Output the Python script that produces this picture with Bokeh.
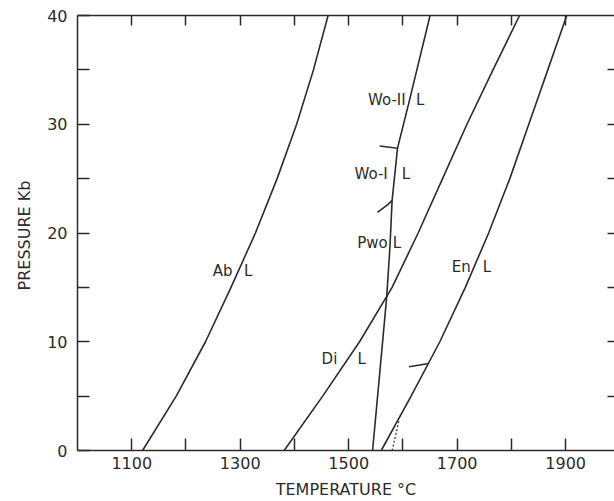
from bokeh.plotting import figure
from bokeh.models import LinearAxis, FixedTicker, Range1d, ColumnDataSource
from bokeh.core.properties import value
from bokeh.embed import file_html
from bokeh.resources import INLINE

# ---- data (pressure in kb, temperature in deg C) ----
ab_p = [0, 5, 10, 15, 20, 25, 30, 35, 40]
ab_t = [1120, 1182, 1236, 1283, 1328, 1368, 1404, 1435, 1462]

di_p = [0, 5, 10, 15, 20, 25, 30, 35, 40]
di_t = [1381, 1452, 1520, 1580, 1628, 1673, 1718, 1766, 1815]

en_p = [0, 5, 10, 15, 20, 25, 30, 35, 40]
en_t = [1560, 1615, 1668, 1715, 1758, 1797, 1832, 1867, 1902]

wo_p = [0, 7, 14.1, 18.7, 23.0, 27.8, 32.2, 40]
wo_t = [1544, 1557, 1570, 1576, 1580, 1590, 1612, 1650]

# short phase-boundary stubs
pwo_wo1_p = [21.9, 22.6, 23.0]
pwo_wo1_t = [1553, 1572, 1580]
wo1_wo2_p = [28.0, 27.8]
wo1_wo2_t = [1557, 1590]
en_stub_p = [7.7, 8.0]
en_stub_t = [1611, 1648]
en_dot_p = [0, 2.8]
en_dot_t = [1580, 1593]

# field labels
lab_left = ["Ab", "Wo-II", "Wo-I", "Pwo", "En", "Di"]
lab_right = ["L", "L", "L", "L", "L", "L"]
lab_left_t = [1286, 1605, 1572, 1572, 1725, 1479]
lab_right_t = [1307, 1624, 1598, 1581, 1747, 1516]
lab_p = [16.5, 32.2, 25.4, 19.1, 16.9, 8.4]

x_major = [1100, 1300, 1500, 1700, 1900]
x_minor = [1200, 1400, 1600, 1800]
x_all = [1100, 1200, 1300, 1400, 1500, 1600, 1700, 1800, 1900]
y_major = [0, 10, 20, 30, 40]
y_minor = [5, 15, 25, 35]
y_all = [5, 10, 15, 20, 25, 30, 35]

x_title = "TEMPERATURE °C"
y_title = "PRESSURE  Kb"

INK = "#2b2b2b"
FONT = "DejaVu Sans"

p = figure(width=614, height=501,
           x_range=Range1d(1000, 1990), y_range=Range1d(0, 40),
           output_backend="svg", toolbar_location=None,
           min_border_left=77, min_border_right=0,
           min_border_top=15, min_border_bottom=50)
p.outline_line_color = None
p.xgrid.visible = False
p.ygrid.visible = False
p.background_fill_color = "white"
p.border_fill_color = "white"

def style(ax, ticks, minor, tick_len):
    ax.ticker = FixedTicker(ticks=ticks, minor_ticks=minor)
    ax.major_tick_in = tick_len
    ax.major_tick_out = 0
    ax.minor_tick_in = tick_len
    ax.minor_tick_out = 0
    ax.axis_line_color = INK
    ax.axis_line_width = 1.5
    ax.major_tick_line_color = INK
    ax.minor_tick_line_color = INK
    ax.major_tick_line_width = 1.5
    ax.minor_tick_line_width = 1.5
    ax.major_label_text_font = FONT
    ax.major_label_text_font_size = "16px"
    ax.major_label_text_color = INK
    ax.axis_label_text_font = FONT
    ax.axis_label_text_font_style = "normal"
    ax.axis_label_text_color = INK

xa = p.xaxis[0]
style(xa, x_major, x_minor, 12)
xa.major_label_standoff = 6
xa.axis_label = x_title
xa.axis_label_text_font_size = "16px"
xa.axis_label_standoff = 8

ya = p.yaxis[0]
style(ya, y_major, y_minor, 12)
ya.major_label_standoff = 10
ya.axis_label = y_title
ya.axis_label_text_font_size = "16px"
ya.axis_label_standoff = 10

top = LinearAxis()
style(top, x_all, [], 10)
top.major_label_overrides = {t: "" for t in x_all}
top.major_label_text_font_size = "1px"
top.major_label_standoff = 0
p.add_layout(top, "above")

right = LinearAxis()
style(right, y_all, [], 7)
right.axis_line_color = None
right.major_label_overrides = {t: "" for t in y_all}
right.major_label_text_font_size = "1px"
right.major_label_standoff = 0
p.add_layout(right, "right")

lw = 1.6
p.line(ab_t, ab_p, line_color=INK, line_width=lw)
p.line(di_t, di_p, line_color=INK, line_width=lw)
p.line(en_t, en_p, line_color=INK, line_width=lw)
p.line(wo_t, wo_p, line_color=INK, line_width=lw)
p.line(pwo_wo1_t, pwo_wo1_p, line_color=INK, line_width=lw)
p.line(wo1_wo2_t, wo1_wo2_p, line_color=INK, line_width=lw)
p.line(en_stub_t, en_stub_p, line_color=INK, line_width=lw)
p.line(en_dot_t, en_dot_p, line_color=INK, line_width=1.2, line_dash="2 2")

src_l = ColumnDataSource(dict(x=lab_left_t, y=lab_p, t=lab_left))
src_r = ColumnDataSource(dict(x=lab_right_t, y=lab_p, t=lab_right))
p.text(x="x", y="y", text="t", source=src_l, text_align="right", text_baseline="middle",
       text_font=value(FONT), text_font_size="15px", text_color=INK)
p.text(x="x", y="y", text="t", source=src_r, text_align="left", text_baseline="middle",
       text_font=value(FONT), text_font_size="15px", text_color=INK)

open("out.html", "w").write(file_html(p, INLINE))
